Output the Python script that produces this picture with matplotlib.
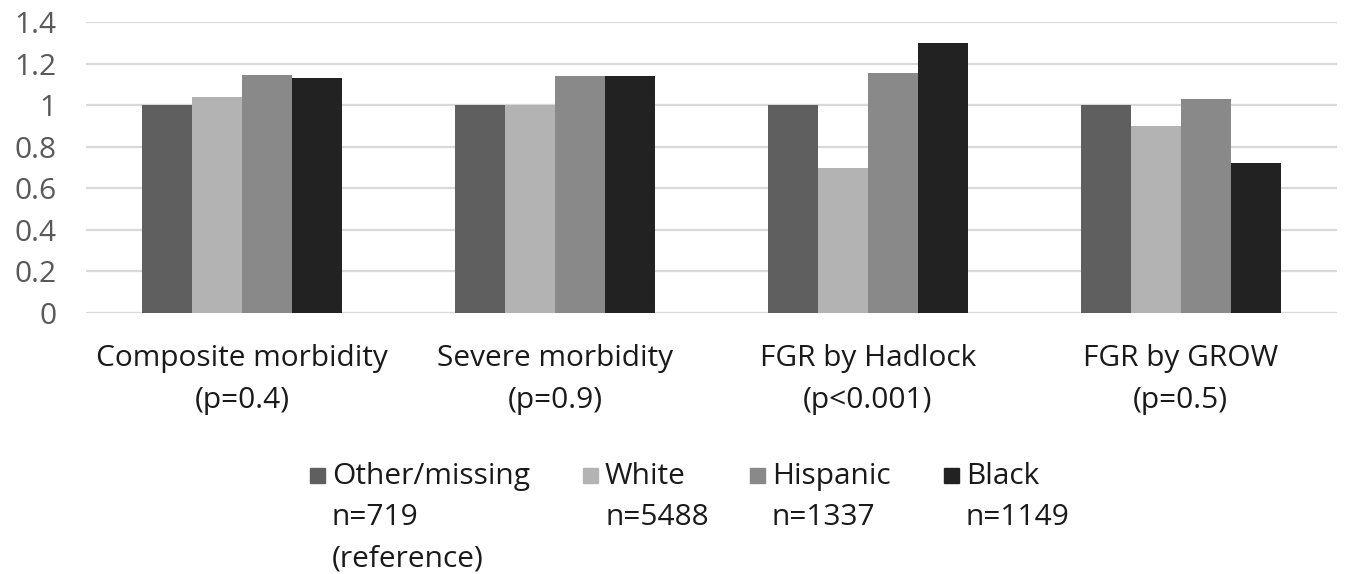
import matplotlib
matplotlib.use("Agg")
from matplotlib import pyplot as plt
from matplotlib.patches import Rectangle
import numpy as np

# dados do gráfico
categorias = ["Composite morbidity\n(p=0.4)", "Severe morbidity\n(p=0.9)",
              "FGR by Hadlock\n(p<0.001)", "FGR by GROW\n(p=0.5)"]
grupos = ["Other/missing", "White", "Hispanic", "Black"]
n_grupos = ["n=719\n(reference)", "n=5488", "n=1337", "n=1149"]
outros = [1.0, 1.0, 1.0, 1.0]
brancos = [1.04, 1.0, 0.70, 0.90]
hispanicos = [1.145, 1.14, 1.155, 1.03]
negros = [1.13, 1.14, 1.30, 0.72]
valores = [outros, brancos, hispanicos, negros]
cores = ["#5f5f5f", "#b3b3b3", "#898989", "#222222"]
yticks = [0, 0.2, 0.4, 0.6, 0.8, 1.0, 1.2, 1.4]
ytick_labels = ["0", "0.2", "0.4", "0.6", "0.8", "1", "1.2", "1.4"]

plt.rcParams['font.family'] = ['Open Sans', 'DejaVu Sans']

fig = plt.figure(figsize=(13.47, 5.74), dpi=100)
ax = fig.add_axes([86 / 1347, 1 - 313 / 574, (1337 - 86) / 1347, (313 - 22) / 574])

x = np.arange(len(categorias))
larg = 0.16
for i, (vals, cor) in enumerate(zip(valores, cores)):
    ax.bar(x + (i - 1.5) * larg, vals, width=larg, color=cor, zorder=3)

ax.set_xlim(-0.5, len(categorias) - 0.5)
ax.set_ylim(0, 1.4)
ax.set_yticks(yticks)
ax.set_yticklabels(ytick_labels, fontsize=21.5, color="#595959")
ax.set_xticks(x)
ax.set_xticklabels(categorias, fontsize=21.5, color="#1a1a1a")
for t in ax.get_xticklabels():
    t.set_linespacing(1.6)
ax.tick_params(axis="both", length=0)
ax.tick_params(axis="x", pad=22)
ax.tick_params(axis="y", pad=21)
ax.grid(axis="y", color="#d9d9d9", linewidth=1.6, zorder=0)
for s in ax.spines.values():
    s.set_visible(False)

# legenda manual (quadrado alinhado na primeira linha)
pos_x = [310, 583, 750, 944]
for i in range(len(grupos)):
    x0 = pos_x[i] / 1347
    y0 = 1 - 483 / 574
    fig.patches.append(Rectangle((x0, y0), 15 / 1347, 15 / 574, transform=fig.transFigure,
                                 color=cores[i], figure=fig))
    fig.text(x0 + 22 / 1347, 1 - 462 / 574, grupos[i] + "\n" + n_grupos[i],
             fontsize=21.5, color="#1a1a1a", va="top", ha="left", linespacing=1.56)

fig.savefig("out.png", dpi=100)
